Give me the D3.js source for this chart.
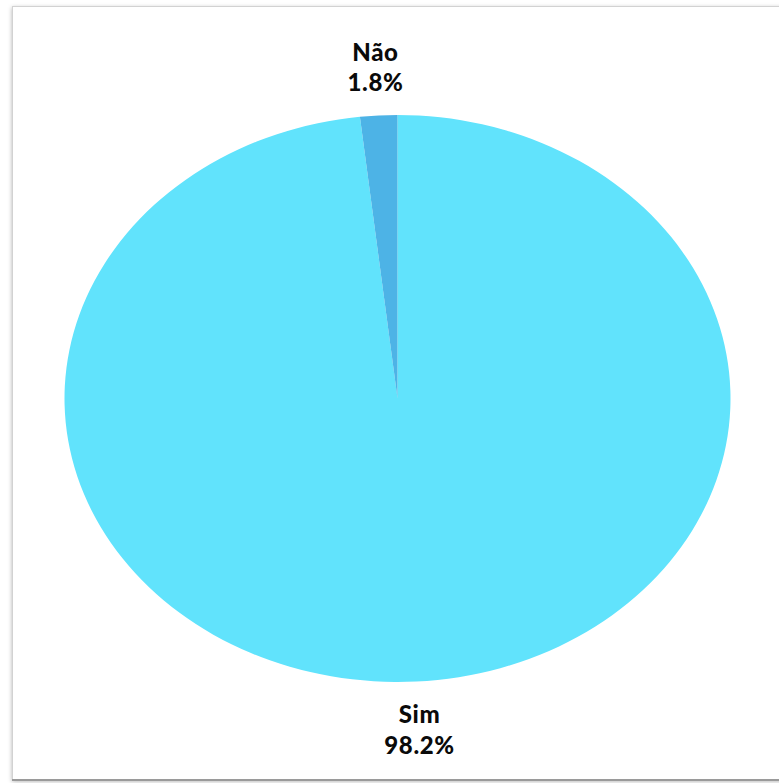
<!DOCTYPE html>
<html>
<head>
<meta charset="utf-8">
<script src="https://cdn.jsdelivr.net/npm/d3@7"></script>
<style>
  html, body { margin: 0; padding: 0; background: #ffffff; }
  svg { display: block; }
  text { font-family: Lato, "Open Sans", sans-serif; font-weight: 900; }
</style>
</head>
<body>
<svg id="chart" width="779" height="783"></svg>
<script>
// ---- data ----
const categories = ["Sim", "Não"];
const values = [98.2, 1.8];
const valueLabels = ["98.2%", "1.8%"];
const colors = ["#61E3FC", "#4DB3E6"];

// ---- layout ----
const W = 779, H = 783;
const cx = 397.5, cy = 398.5;
const ry = 283.5, rx = 333;
const sx = rx / ry;

const svg = d3.select("#chart");

// frame with soft shadow
const defs = svg.append("defs");
const f = defs.append("filter").attr("id", "sh").attr("x", "-5%").attr("y", "-5%").attr("width", "110%").attr("height", "110%");
f.append("feDropShadow").attr("dx", 0).attr("dy", 1.5).attr("stdDeviation", 2).attr("flood-color", "#000").attr("flood-opacity", 0.3);

svg.append("rect")
  .attr("x", 12.5).attr("y", 6.5).attr("width", 790).attr("height", 773)
  .attr("fill", "#fff").attr("stroke", "#d2d2d2").attr("stroke-width", 1)
  .attr("filter", "url(#sh)");
svg.append("line").attr("x1", 12).attr("x2", W).attr("y1", 780).attr("y2", 780)
  .attr("stroke", "#9a9a9a").attr("stroke-width", 2);

// pie
const pie = d3.pie().sort(null).value(d => d.v).startAngle(0).endAngle(2 * Math.PI);
const data = categories.map((c, i) => ({ c, v: values[i], l: valueLabels[i], col: colors[i] }));
const arcs = pie(data);
const arc = d3.arc().innerRadius(0).outerRadius(ry);
const labelArc = d3.arc().innerRadius(ry * 1.17).outerRadius(ry * 1.17);

const g = svg.append("g").attr("transform", `translate(${cx},${cy}) scale(${sx},1)`);
g.selectAll("path").data(arcs).enter().append("path")
  .attr("d", arc)
  .attr("fill", d => d.data.col);

// labels
const lg = svg.append("g");
arcs.forEach(d => {
  const [lx, ly] = labelArc.centroid(d);
  const x = cx + lx * sx, y = cy + ly;
  lg.append("text").attr("x", x).attr("y", y - 6.5)
    .attr("text-anchor", "middle").attr("font-size", 24).attr("letter-spacing", 0.6)
    .attr("fill", "#0a0a0a").text(d.data.c);
  lg.append("text").attr("x", x).attr("y", y + 24)
    .attr("text-anchor", "middle").attr("font-size", 24).attr("letter-spacing", 0.6)
    .attr("fill", "#0a0a0a").text(d.data.l);
});
</script>
</body>
</html>
